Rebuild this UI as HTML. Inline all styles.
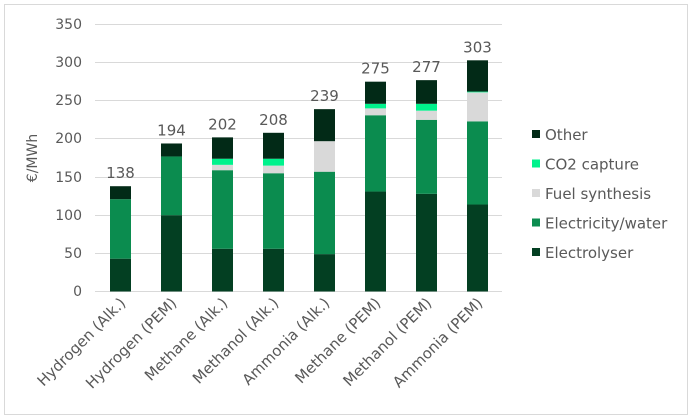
<!DOCTYPE html>
<html><head><meta charset="utf-8"><style>
html,body{margin:0;padding:0;background:#fff}
svg{display:block;font-family:"DejaVu Sans","Liberation Sans",sans-serif}
</style></head><body>
<svg width="692" height="419" viewBox="0 0 692 419">
<rect x="4.5" y="4.5" width="683" height="410" fill="#fff" stroke="#d9d9d9"/>
<g stroke="#d9d9d9" stroke-width="1">
<line x1="95" x2="502" y1="24.5" y2="24.5"/>
<line x1="95" x2="502" y1="62.5" y2="62.5"/>
<line x1="95" x2="502" y1="100.5" y2="100.5"/>
<line x1="95" x2="502" y1="138.5" y2="138.5"/>
<line x1="95" x2="502" y1="177.5" y2="177.5"/>
<line x1="95" x2="502" y1="215.5" y2="215.5"/>
<line x1="95" x2="502" y1="253.5" y2="253.5"/>
<line x1="95" x2="502" y1="291.5" y2="291.5"/>
</g>
<g fill="#595959" font-size="14" text-anchor="end">
<text x="82" y="29">350</text><text x="82" y="67">300</text><text x="82" y="105">250</text>
<text x="82" y="143">200</text><text x="82" y="182">150</text><text x="82" y="220">100</text>
<text x="82" y="258">50</text><text x="82" y="296">0</text>
</g>
<text transform="translate(37,158) rotate(-90)" fill="#595959" font-size="14" text-anchor="middle">€/MWh</text>
<g id="bars"></g>
<g fill="#595959" font-size="15" text-anchor="middle" id="tot"></g>
<g fill="#595959" font-size="15" text-anchor="end" id="cats"></g>
<g font-size="15" fill="#595959">
<rect x="532" y="130" width="8" height="8" fill="#022a17"/><text x="545" y="140">Other</text>
<rect x="532" y="159.5" width="8" height="8" fill="#00f28c"/><text x="545" y="169.5">CO2 capture</text>
<rect x="532" y="189" width="8" height="8" fill="#d9d9d9"/><text x="545" y="199">Fuel synthesis</text>
<rect x="532" y="218.5" width="8" height="8" fill="#0b8c4f"/><text x="545" y="228.5">Electricity/water</text>
<rect x="532" y="248" width="8" height="8" fill="#033f22"/><text x="545" y="258">Electrolyser</text>
</g>
<script>
var data=[["Hydrogen (Alk.)",43,78,0,0,17,138],["Hydrogen (PEM)",100,77,0,0,17,194],
["Methane (Alk.)",56,103,7,8,28,202],["Methanol (Alk.)",56,99,10,9,34,208],
["Ammonia (Alk.)",49,108,40,0,42,239],["Methane (PEM)",131,100,9,6,29,275],
["Methanol (PEM)",128,97,12,9,31,277],["Ammonia (PEM)",114,109,38,1,41,303]];
var cols=["#033f22","#0b8c4f","#d9d9d9","#00f28c","#022a17"];
var ns="http://www.w3.org/2000/svg",k=0.763,y0=291.5;
var b=document.getElementById("bars"),t=document.getElementById("tot"),c=document.getElementById("cats");
data.forEach(function(d,i){var cx=120.5+51*i,acc=0;
for(var j=0;j<5;j++){var h=d[j+1]*k;if(h<=0)continue;var r=document.createElementNS(ns,"rect");
r.setAttribute("x",cx-10.5);r.setAttribute("width",21);r.setAttribute("y",y0-acc-h);r.setAttribute("height",h);r.setAttribute("fill",cols[j]);b.appendChild(r);acc+=h;}
var tt=document.createElementNS(ns,"text");tt.setAttribute("x",cx);tt.setAttribute("y",y0-acc-8);tt.textContent=d[6];t.appendChild(tt);
var l=document.createElementNS(ns,"text");l.setAttribute("transform","translate("+(cx+6)+",304) rotate(-45)");l.textContent=d[0];c.appendChild(l);});
</script>
</svg>
</body></html>
